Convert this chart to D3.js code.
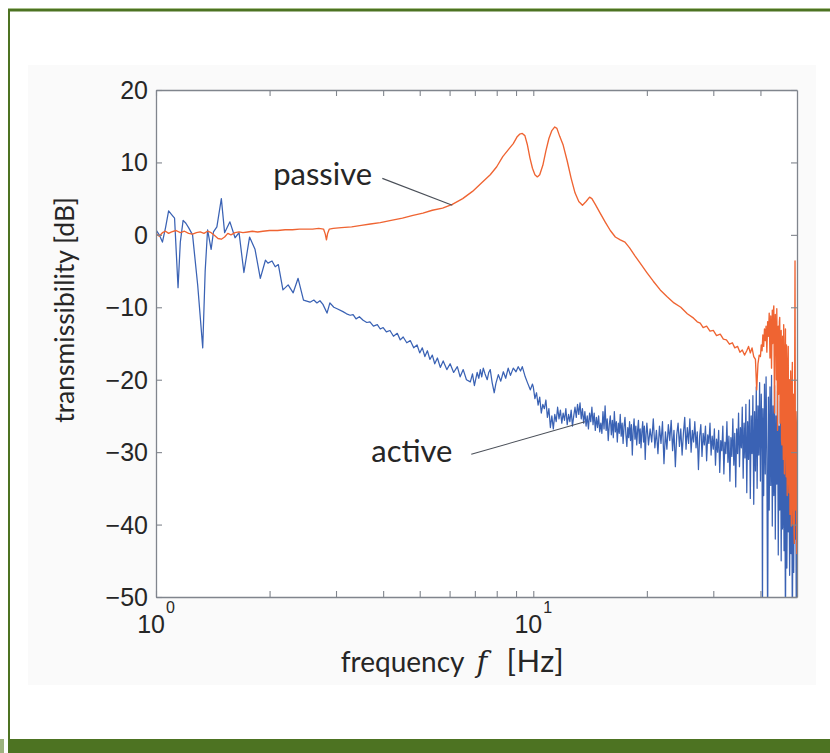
<!DOCTYPE html>
<html>
<head>
<meta charset="utf-8">
<script src="https://cdn.jsdelivr.net/npm/d3@7"></script>
<style>
	body { margin: 0; background: #fff; }
	svg { display: block; }
</style>
</head>
<body>
<svg id="chart" width="830" height="753"></svg>
<script>
// transmissibility of the isolation stage: [frequency Hz, dB]
const passive = [
	[1.00,0.2],[1.02,-0.2],[1.04,0.3],[1.06,0.5],[1.08,0.2],[1.10,0.4],[1.13,0.6],[1.16,0.3],[1.19,0.5],[1.22,0.2],
	[1.25,0.1],[1.28,0.3],[1.31,0.4],[1.34,0.2],[1.37,0.5],[1.40,0.3],[1.43,-0.1],[1.46,-0.5],[1.49,-0.6],[1.52,-0.3],
	[1.55,0.2],[1.58,0.0],[1.62,0.3],[1.66,0.4],[1.70,0.3],[1.75,0.4],[1.80,0.5],[1.86,0.4],[1.92,0.5],[2.00,0.6],
	[2.10,0.6],[2.20,0.7],[2.30,0.7],[2.40,0.8],[2.50,0.8],[2.60,0.8],[2.70,0.9],[2.78,0.8],[2.81,0.1],[2.83,-0.7],
	[2.85,0.2],[2.88,0.8],[2.95,0.9],[3.10,1.0],[3.30,1.1],[3.50,1.3],[3.70,1.5],[3.93,1.7],[4.20,2.0],[4.50,2.3],
	[4.80,2.7],[5.10,3.0],[5.40,3.4],[5.75,3.7],[6.10,4.2],[6.50,5.0],[6.90,6.0],[7.30,7.2],[7.69,8.3],[8.00,9.4],
	[8.30,10.8],[8.60,11.8],[8.85,12.6],[9.05,13.5],[9.20,13.9],[9.35,14.0],[9.50,13.7],[9.65,12.4],[9.80,10.6],[9.95,9.2],
	[10.10,8.3],[10.25,8.0],[10.40,8.3],[10.60,9.6],[10.80,11.6],[11.00,13.3],[11.20,14.4],[11.40,14.9],[11.55,14.7],[11.75,13.6],
	[12.00,12.4],[12.30,10.2],[12.60,7.8],[12.90,5.8],[13.20,4.6],[13.50,4.1],[13.80,4.6],[14.10,5.2],[14.30,5.0],[14.60,4.2],
	[15.00,3.1],[15.50,1.8],[16.00,0.6],[16.50,-0.3],[17.00,-0.7],[17.50,-1.0],[18.00,-1.8],[18.60,-2.9],[19.20,-3.9],[20.00,-5.2],
	[20.80,-6.4],[21.70,-7.6],[22.60,-8.5],[23.60,-9.4],[24.60,-10.0],[25.60,-10.9],[26.60,-11.5],[27.20,-12.0],[27.70,-12.2],[28.20,-12.8],
	[28.80,-12.6],[29.40,-13.3],[30.00,-13.2],[30.60,-13.9],[31.30,-13.7],[31.90,-14.4],[32.50,-14.5],[33.10,-15.1],[33.70,-14.9],[34.20,-15.6],
	[34.80,-15.4],[35.30,-16.2],[35.80,-15.9],[36.30,-16.6],[36.80,-16.0],[37.20,-15.4],[37.60,-16.3],[38.00,-15.6],[38.40,-16.8],[38.80,-17.2],
	[39.10,-21.4],[39.40,-17.8],[39.70,-16.6],[40.00,-16.8],[40.20,-15.2],[40.40,-16.0],[40.60,-13.8],[40.80,-15.4],[41.00,-13.0],[41.20,-14.6],
	[41.40,-12.6],[41.60,-16.2],[41.80,-12.0],[42.00,-14.0],[42.20,-10.8],[42.40,-17.0],[42.60,-11.2],[42.80,-18.4],[43.00,-10.4],[43.10,-15.0],
	[43.20,-13.6],[43.30,-10.6],[43.40,-9.8],[43.50,-18.0],[43.60,-24.6],[43.70,-14.0],[43.80,-11.0],[43.90,-16.4],[44.00,-14.4],[44.10,-20.0],
	[44.20,-10.2],[44.30,-17.6],[44.40,-27.0],[44.50,-13.4],[44.60,-12.6],[44.70,-22.0],[44.80,-19.0],[44.90,-12.0],[45.00,-11.4],[45.10,-26.0],
	[45.20,-24.0],[45.30,-15.0],[45.40,-13.2],[45.50,-28.4],[45.60,-29.0],[45.70,-17.2],[45.80,-14.0],[45.90,-25.6],[46.00,-31.0],[46.10,-12.4],
	[46.20,-16.6],[46.30,-33.0],[46.40,-27.4],[46.50,-18.0],[46.60,-13.0],[46.70,-29.6],[46.80,-33.4],[46.90,-15.2],[47.00,-18.0],[47.10,-36.0],
	[47.20,-30.2],[47.30,-19.4],[47.40,-15.4],[47.50,-34.0],[47.60,-35.6],[47.70,-21.0],[47.80,-20.0],[47.90,-38.6],[48.00,-37.4],[48.10,-18.8],
	[48.20,-22.6],[48.30,-40.2],[48.40,-33.0],[48.50,-21.4],[48.60,-17.6],[48.70,-36.6],[48.80,-40.0],[48.90,-22.0],[49.00,-24.0],[49.10,-41.0],
	[49.20,-42.6],[49.30,-20.0],[49.40,-3.6],[49.50,-30.0],[49.60,-38.0],[49.70,-24.4],[49.80,-26.0],[49.90,-44.0],[50.00,-43.0]
]

const active = [
	[1.00,0.7],[1.02,0.0],[1.04,-1.0],[1.06,1.0],[1.08,3.3],[1.10,2.8],[1.12,2.3],[1.144,-7.3],[1.16,-1.0],[1.18,2.0],
	[1.20,1.6],[1.22,1.0],[1.25,0.0],[1.29,-7.0],[1.33,-15.6],[1.35,-5.0],[1.37,0.7],[1.40,-2.0],[1.42,0.4],[1.45,1.1],
	[1.49,5.0],[1.52,0.3],[1.57,1.8],[1.62,-0.4],[1.66,0.3],[1.71,-5.2],[1.77,-0.3],[1.83,-2.0],[1.89,-6.0],[1.95,-3.5],
	[1.98,-3.9],[2.03,-3.6],[2.07,-4.4],[2.11,-4.1],[2.17,-7.6],[2.24,-6.9],[2.31,-8.0],[2.38,-6.0],[2.46,-9.0],[2.56,-9.3],
	[2.62,-9.0],[2.67,-9.4],[2.72,-9.1],[2.77,-9.6],[2.84,-10.8],[2.89,-9.4],[2.96,-10.0],[3.02,-10.2],[3.13,-10.6],[3.20,-10.9],
	[3.27,-11.1],[3.33,-11.0],[3.39,-11.6],[3.46,-11.3],[3.54,-11.8],[3.62,-12.1],[3.69,-12.0],[3.77,-12.6],[3.86,-12.4],[3.93,-13.0],
	[4.00,-12.8],[4.08,-13.4],[4.17,-13.2],[4.26,-14.0],[4.36,-13.6],[4.44,-14.5],[4.52,-14.1],[4.62,-14.9],[4.72,-14.6],[4.82,-15.6],
	[4.92,-15.2],[5.00,-16.3],[5.08,-15.6],[5.16,-16.8],[5.24,-16.0],[5.32,-17.2],[5.40,-16.6],[5.48,-17.8],[5.57,-17.0],[5.67,-18.3],
	[5.77,-17.4],[5.90,-18.6],[6.02,-17.8],[6.15,-19.0],[6.29,-18.2],[6.40,-19.6],[6.52,-18.6],[6.65,-20.0],[6.81,-20.3],[6.90,-19.2],
	[6.98,-20.8],[7.10,-19.0],[7.17,-19.8],[7.24,-18.6],[7.30,-19.6],[7.37,-18.4],[7.45,-19.2],[7.55,-20.0],[7.62,-19.0],[7.69,-18.6],
	[7.78,-20.4],[7.88,-21.8],[7.96,-20.5],[8.08,-19.3],[8.20,-20.2],[8.33,-18.9],[8.45,-19.8],[8.58,-18.4],[8.70,-19.4],[8.85,-18.4],
	[9.00,-18.9],[9.12,-18.2],[9.25,-18.8],[9.35,-18.2],[9.52,-19.6],[9.65,-20.4],[9.82,-21.4],[9.95,-20.6],[10.0,-21.0],[10.1,-22.6],
	[10.2,-21.8],[10.3,-23.5],[10.4,-22.4],[10.5,-24.6],[10.6,-23.4],[10.7,-24.0],[10.8,-22.8],[10.9,-25.2],[11.0,-24.0],[11.1,-26.6],
	[11.2,-25.0],[11.3,-26.8],[11.4,-24.8],[11.5,-25.8],[11.6,-23.8],[11.7,-25.4],[11.8,-24.2],[11.9,-26.0],[12.0,-24.6],[12.1,-25.6],
	[12.2,-24.0],[12.3,-26.2],[12.4,-24.8],[12.5,-25.8],[12.6,-24.2],[12.7,-26.4],[12.8,-25.0],[12.9,-23.8],[13.0,-25.2],[13.1,-23.4],
	[13.2,-24.8],[13.3,-23.2],[13.4,-25.4],[13.5,-24.0],[13.6,-26.0],[13.7,-24.4],[13.8,-26.4],[13.9,-25.0],[14.0,-26.8],[14.1,-24.6],
	[14.2,-25.8],[14.3,-23.8],[14.4,-26.2],[14.5,-24.6],[14.6,-27.0],[14.7,-25.2],[14.8,-26.6],[14.9,-25.0],[15.0,-27.2],[15.1,-26.0],
	[15.2,-27.4],[15.3,-24.4],[15.4,-26.8],[15.5,-23.6],[15.6,-27.0],[15.7,-25.4],[15.8,-28.4],[15.9,-26.2],[16.0,-25.0],[16.1,-27.6],
	[16.2,-25.6],[16.3,-28.0],[16.4,-24.4],[16.5,-27.2],[16.6,-25.8],[16.7,-28.6],[16.8,-26.0],[16.9,-27.4],[17.0,-24.8],[17.1,-27.8],
	[17.2,-26.0],[17.3,-28.8],[17.4,-26.4],[17.5,-25.2],[17.6,-27.6],[17.7,-29.2],[17.8,-26.6],[17.9,-28.0],[18.0,-25.8],[18.1,-28.4],
	[18.2,-26.2],[18.3,-30.4],[18.4,-27.0],[18.5,-25.4],[18.6,-28.2],[18.7,-26.4],[18.8,-29.0],[18.9,-27.0],[19.0,-25.6],[19.1,-28.8],
	[19.2,-26.8],[19.3,-29.4],[19.4,-27.2],[19.5,-25.8],[19.6,-28.6],[19.7,-26.4],[19.8,-31.0],[19.9,-27.6],[20.0,-26.0],[20.2,-29.0],
	[20.4,-26.8],[20.6,-28.6],[20.8,-25.4],[21.0,-29.4],[21.2,-27.0],[21.4,-30.2],[21.6,-26.4],[21.8,-28.8],[22.0,-25.8],[22.2,-31.6],
	[22.4,-27.2],[22.6,-29.6],[22.8,-26.2],[23.0,-28.4],[23.2,-25.6],[23.4,-29.8],[23.6,-27.0],[23.8,-32.0],[24.0,-27.6],[24.2,-26.0],
	[24.4,-29.2],[24.6,-26.8],[24.8,-30.4],[25.0,-27.4],[25.2,-25.2],[25.4,-29.6],[25.6,-26.6],[25.8,-28.8],[26.0,-25.4],[26.2,-30.0],
	[26.4,-27.0],[26.6,-28.6],[26.8,-25.8],[27.0,-29.4],[27.2,-27.2],[27.4,-32.4],[27.6,-27.8],[27.8,-26.2],[28.0,-30.6],[28.2,-27.4],
	[28.4,-29.0],[28.6,-26.4],[28.8,-31.2],[29.0,-27.6],[29.2,-28.8],[29.4,-26.0],[29.6,-30.4],[29.8,-27.8],[30.0,-29.6],[30.2,-26.8],
	[30.4,-31.8],[30.6,-28.2],[30.8,-30.0],[31.0,-27.0],[31.2,-32.8],[31.4,-28.4],[31.6,-29.8],[31.8,-26.4],[32.0,-33.0],[32.2,-28.6],
	[32.4,-30.2],[32.6,-25.8],[32.8,-31.4],[33.0,-27.8],[33.2,-34.0],[33.4,-28.0],[33.6,-30.6],[33.8,-25.4],[34.0,-31.8],[34.2,-27.4],
	[34.4,-34.8],[34.6,-26.8],[34.8,-30.2],[35.0,-24.6],[35.2,-32.0],[35.4,-26.6],[35.6,-29.4],[35.8,-23.8],[36.0,-33.6],[36.2,-26.0],
	[36.4,-30.8],[36.6,-23.4],[36.8,-35.6],[37.0,-25.8],[37.2,-31.0],[37.4,-22.8],[37.6,-36.4],[37.8,-25.0],[38.0,-30.2],[38.2,-22.2],
	[38.4,-37.2],[38.6,-24.4],[38.8,-32.6],[39.0,-21.0],[39.2,-35.0],[39.4,-23.6],[39.6,-30.4],[39.8,-20.4],[40.0,-34.0],[40.2,-22.0],
	[40.4,-30.0],[40.5,-55.0],[40.6,-24.0],[40.8,-36.0],[41.0,-20.6],[41.2,-33.0],[41.4,-19.6],[41.6,-30.8],[41.8,-55.0],[42.0,-22.4],
	[42.2,-38.0],[42.4,-21.0],[42.6,-34.6],[42.8,-19.4],[43.0,-40.2],[43.2,-23.6],[43.4,-36.0],[43.6,-20.8],[43.8,-42.0],[44.0,-25.0],
	[44.2,-34.4],[44.4,-21.6],[44.6,-44.2],[44.8,-26.4],[45.0,-38.0],[45.2,-23.0],[45.4,-45.0],[45.6,-27.4],[45.8,-40.6],[46.0,-24.8],
	[46.2,-43.6],[46.4,-30.0],[46.6,-55.0],[46.8,-28.2],[47.0,-46.0],[47.2,-33.4],[47.4,-41.0],[47.6,-31.6],[47.8,-47.0],[48.0,-35.0],
	[48.2,-44.0],[48.4,-32.0],[48.6,-55.0],[48.8,-37.0],[49.0,-46.6],[49.2,-33.0],[49.4,-42.0],[49.6,-30.0],[49.8,-55.0],[50.0,-40.0]
]

const yTicks = [20, 10, 0, -10, -20, -30, -40, -50]
const xDecades = [1, 10]
const xMinor = [2, 3, 4, 5, 6, 7, 8, 9, 20, 30, 40]

// label text, where it sits and where its leader line points (Hz, dB)
const notes = [
	{ text: 'passive', anchor: 'end', at: [3.74, 6.9], from: [3.98, 7.8], to: [6.1, 4.1] },
	{ text: 'active', anchor: 'start', at: [3.72, -31.3], from: [6.85, -30.3], to: [13.7, -25.8] }
]

const green = '#4d7322'
const blue = '#3a62b4'
const orange = '#ef6432'
const axisGrey = '#80858d'
const ink = '#262626'
const tickFont = '"Liberation Sans", Arial, sans-serif'
const labelFont = 'Lato, "Open Sans", sans-serif'

const svg = d3.select('#chart')

// page furniture: green frame, shaded figure panel
svg.append('rect').attr('x', 8).attr('y', 8).attr('width', 822).attr('height', 1).attr('fill', '#a9c08c')
svg.append('rect').attr('x', 8).attr('y', 9).attr('width', 822).attr('height', 2.5).attr('fill', green)
svg.append('rect').attr('x', 8).attr('y', 9).attr('width', 2).attr('height', 731).attr('fill', green)
svg.append('rect').attr('x', 8).attr('y', 739).attr('width', 822).attr('height', 14).attr('fill', green)
svg.append('rect').attr('x', 0).attr('y', 739).attr('width', 4).attr('height', 14).attr('fill', '#9cb27e')
svg.append('rect').attr('x', 28).attr('y', 65).attr('width', 788).attr('height', 620).attr('fill', '#fafafa')

const plot = { left: 156, right: 797, top: 90, bottom: 597 }

const x = d3.scaleLog().domain([1, 50]).range([plot.left, plot.right])
const y = d3.scaleLinear().domain([-50, 20]).range([plot.bottom, plot.top])

svg.append('rect')
	.attr('x', plot.left).attr('y', plot.top)
	.attr('width', plot.right - plot.left).attr('height', plot.bottom - plot.top)
	.attr('fill', '#fff')

svg.append('clipPath').attr('id', 'clip')
	.append('rect')
		.attr('x', plot.left).attr('y', plot.top)
		.attr('width', plot.right - plot.left).attr('height', plot.bottom - plot.top)

const line = d3.line()
	.x((d) => x(d[0]))
	.y((d) => y(d[1]))

const curves = svg.append('g').attr('clip-path', 'url(#clip)')

curves.append('path')
	.datum(active)
	.attr('d', line)
	.attr('fill', 'none')
	.attr('stroke', blue)
	.attr('stroke-width', 1.25)
	.attr('stroke-linejoin', 'round')

curves.append('path')
	.datum(passive)
	.attr('d', line)
	.attr('fill', 'none')
	.attr('stroke', orange)
	.attr('stroke-width', 1.35)
	.attr('stroke-linejoin', 'round')

// axes, MATLAB style: boxed, ticks pointing inward on all four sides
const tickLen = 6
const allX = xDecades.concat(xMinor)

const xAxisBottom = d3.axisBottom(x).tickValues(allX).tickSizeInner(-tickLen).tickSizeOuter(0).tickFormat('')
const xAxisTop = d3.axisTop(x).tickValues(allX).tickSizeInner(-tickLen).tickSizeOuter(0).tickFormat('')
const yAxisLeft = d3.axisLeft(y).tickValues(yTicks).tickSizeInner(-tickLen).tickSizeOuter(0).tickFormat('')
const yAxisRight = d3.axisRight(y).tickValues(yTicks).tickSizeInner(-tickLen).tickSizeOuter(0).tickFormat('')

const axes = [
	[xAxisBottom, `translate(0,${plot.bottom})`],
	[xAxisTop, `translate(0,${plot.top})`],
	[yAxisLeft, `translate(${plot.left},0)`],
	[yAxisRight, `translate(${plot.right},0)`]
]
axes.forEach(([axis, tr]) => {
	const g = svg.append('g').attr('transform', tr).call(axis)
	g.select('.domain').attr('stroke', axisGrey).attr('stroke-width', 1.3)
	g.selectAll('.tick line').attr('stroke', axisGrey).attr('stroke-width', 1.1)
})

svg.append('g')
	.selectAll('text')
	.data(yTicks)
	.join('text')
		.attr('x', plot.left - 8)
		.attr('y', (d) => y(d))
		.attr('dy', '0.36em')
		.attr('text-anchor', 'end')
		.attr('font-family', tickFont)
		.attr('font-size', 25)
		.attr('fill', ink)
		.text((d) => (d < 0 ? '\u2212' + Math.abs(d) : d))

const xLabels = svg.append('g')
	.selectAll('text')
	.data(xDecades)
	.join('text')
		.attr('x', (d) => x(d))
		.attr('y', plot.bottom + 36)
		.attr('text-anchor', 'middle')
		.attr('font-family', tickFont)
		.attr('font-size', 25)
		.attr('fill', ink)
xLabels.append('tspan').text('10')
xLabels.append('tspan')
	.attr('font-size', 16)
	.attr('dy', -20)
	.attr('dx', 1)
	.text((d) => Math.round(Math.log10(d)))

// axis titles
svg.append('text')
	.attr('transform', 'translate(74,310) rotate(-90)')
	.attr('text-anchor', 'middle')
	.attr('font-family', labelFont)
	.attr('font-size', 26.5)
	.attr('fill', ink)
	.text('transmissibility [dB]')

const cx = (plot.left + plot.right) / 2
const xTitle = svg.append('g').attr('font-family', labelFont).attr('font-size', 28).attr('fill', ink)
xTitle.append('text')
	.attr('x', cx - 12).attr('y', 672)
	.attr('text-anchor', 'end')
	.text('frequency')
xTitle.append('text')
	.attr('x', cx).attr('y', 672)
	.attr('font-family', '"DejaVu Serif", "Liberation Serif", serif')
	.attr('font-style', 'italic')
	.attr('font-size', 29)
	.text('f')
xTitle.append('text')
	.attr('x', cx + 30).attr('y', 672)
	.attr('font-size', 31)
	.attr('letter-spacing', 0.5)
	.text('[Hz]')

// annotations with leader lines
const note = svg.append('g')
	.selectAll('g')
	.data(notes)
	.join('g')

note.append('line')
	.attr('x1', (d) => x(d.from[0]))
	.attr('y1', (d) => y(d.from[1]))
	.attr('x2', (d) => x(d.to[0]))
	.attr('y2', (d) => y(d.to[1]))
	.attr('stroke', '#4a4f58')
	.attr('stroke-width', 1.1)

note.append('text')
	.attr('x', (d) => x(d.at[0]))
	.attr('y', (d) => y(d.at[1]))
	.attr('text-anchor', (d) => d.anchor)
	.attr('font-family', labelFont)
	.attr('font-size', 31)
	.attr('fill', ink)
	.text((d) => d.text)
</script>
</body>
</html>
